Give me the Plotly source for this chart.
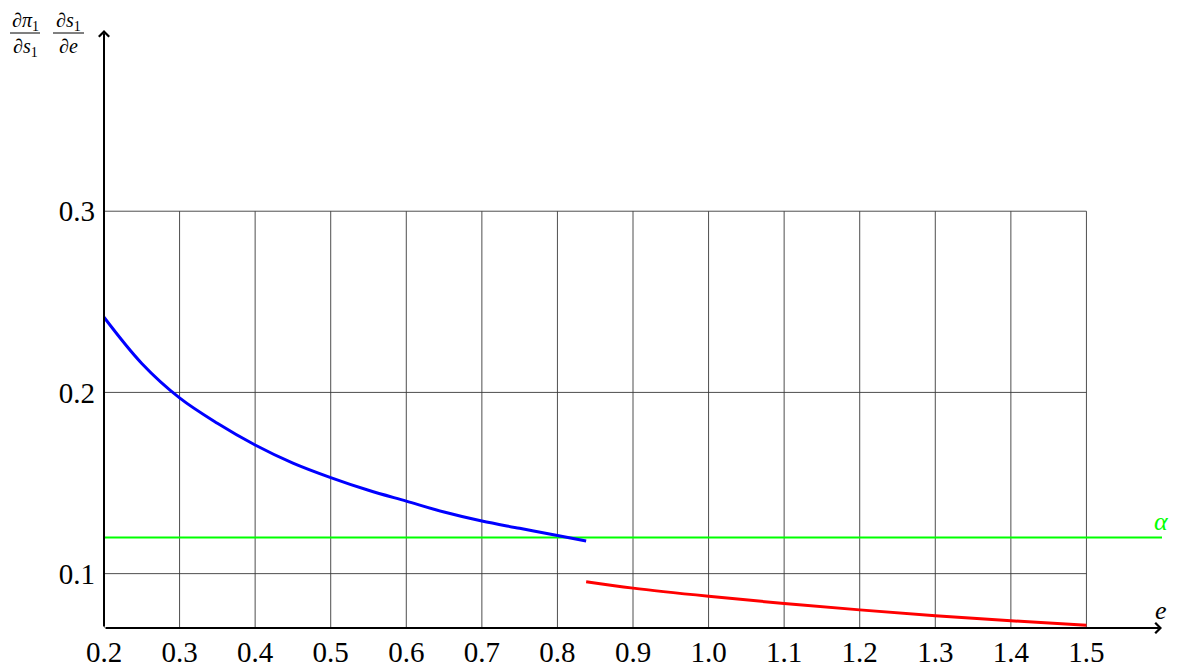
import plotly.graph_objects as go

# data
blue_e = [0.2, 0.25, 0.3, 0.35, 0.4, 0.45, 0.5, 0.55, 0.6, 0.65, 0.7, 0.75, 0.8, 0.838]
blue_v = [0.2415, 0.216, 0.197, 0.183, 0.171, 0.161, 0.153, 0.146, 0.140, 0.134, 0.129, 0.125, 0.121, 0.118]
red_e = [0.838, 0.9, 1.0, 1.1, 1.2, 1.3, 1.4, 1.5]
red_v = [0.0955, 0.092, 0.0875, 0.0835, 0.080, 0.0768, 0.074, 0.0715]
alpha_level = 0.12

x_ticks = [0.2, 0.3, 0.4, 0.5, 0.6, 0.7, 0.8, 0.9, 1.0, 1.1, 1.2, 1.3, 1.4, 1.5]
x_ticktext = ["0.2", "0.3", "0.4", "0.5", "0.6", "0.7", "0.8", "0.9", "1.0", "1.1", "1.2", "1.3", "1.4", "1.5"]
y_ticks = [0.1, 0.2, 0.3]
y_ticktext = ["0.1", "0.2", "0.3"]

x_min, x_max = 0.2, 1.6
y_min, y_max = 0.07, 0.4

FONT = "Liberation Serif"

# page has an 8px body margin; size figure so plot area matches the reference
OFF = 8
W, H = 1172, 659
L, R, T, B = 96, 18, 22, 39
pw, ph = W - L - R, H - T - B


def px_x(px):
    return (px - OFF - L) / pw


def px_y(py):
    return (H - (py - OFF) - B) / ph


fig = go.Figure()

# grid (limited to tick extent)
grid_top = max(y_ticks)
grid_right = max(x_ticks)
for xv in x_ticks:
    fig.add_shape(type="line", x0=xv, x1=xv, y0=y_min, y1=grid_top, xref="x", yref="y",
                  line=dict(color="#3a3a3a", width=0.9), layer="below")
for yv in y_ticks:
    fig.add_shape(type="line", x0=x_min, x1=grid_right, y0=yv, y1=yv, xref="x", yref="y",
                  line=dict(color="#3a3a3a", width=0.9), layer="below")

fig.add_trace(go.Scatter(x=[x_min, x_max], y=[alpha_level, alpha_level], mode="lines",
                         line=dict(color="#00ff00", width=2), hoverinfo="skip"))
fig.add_trace(go.Scatter(x=blue_e, y=blue_v, mode="lines",
                         line=dict(color="#0000ff", width=3, shape="spline"), hoverinfo="skip"))
fig.add_trace(go.Scatter(x=red_e, y=red_v, mode="lines",
                         line=dict(color="#ff0000", width=3, shape="spline"), hoverinfo="skip"))

# axes with arrows
fig.add_annotation(x=x_max, y=y_min, ax=x_min, ay=y_min, xref="x", yref="y", axref="x", ayref="y",
                   showarrow=True, arrowhead=4, arrowsize=1, arrowwidth=2, arrowcolor="black", text="")
fig.add_annotation(x=x_min, y=y_max, ax=x_min, ay=y_min, xref="x", yref="y", axref="x", ayref="y",
                   showarrow=True, arrowhead=4, arrowsize=1, arrowwidth=2, arrowcolor="black", text="")

# axis label e and alpha label
fig.add_annotation(x=px_x(1161), y=px_y(610), xref="paper", yref="paper", text="<i>e</i>",
                   showarrow=False, xanchor="center", yanchor="middle",
                   font=dict(family=FONT, size=26, color="black"))
fig.add_annotation(x=px_x(1161), y=px_y(521), xref="paper", yref="paper", text="<i>α</i>",
                   showarrow=False, xanchor="center", yanchor="middle",
                   font=dict(family=FONT, size=26, color="#00ff00"))

# y-axis title as two stacked fractions: (center x, numerator, denominator, bar left, bar right)
title_parts = [(25, "∂<i>π</i><sub>1</sub>", "∂<i>s</i><sub>1</sub>", 10, 40),
               (68, "∂<i>s</i><sub>1</sub>", "∂<i>e</i>", 53, 84)]
for xc, num, den, xl, xr in title_parts:
    fig.add_annotation(x=px_x(xc), y=px_y(OFF), xref="paper", yref="paper", text=num,
                       showarrow=False, xanchor="center", yanchor="top", borderpad=0,
                       font=dict(family=FONT, size=20, color="black"))
    fig.add_annotation(x=px_x(xc), y=px_y(34), xref="paper", yref="paper", text=den,
                       showarrow=False, xanchor="center", yanchor="top", borderpad=0,
                       font=dict(family=FONT, size=20, color="black"))
    fig.add_shape(type="line", xref="paper", yref="paper",
                  x0=px_x(xl), x1=px_x(xr), y0=px_y(33), y1=px_y(33),
                  line=dict(color="black", width=1))

fig.update_layout(
    width=W, height=H,
    margin=dict(l=L, r=R, t=T, b=B, autoexpand=False),
    paper_bgcolor="white", plot_bgcolor="white",
    showlegend=False,
    xaxis=dict(range=[x_min, x_max], tickvals=x_ticks, ticktext=x_ticktext, showgrid=False,
               zeroline=False, showline=False, ticks="", ticklabelstandoff=4, automargin=False,
               tickfont=dict(family=FONT, size=29, color="black")),
    yaxis=dict(range=[y_min, y_max], tickvals=y_ticks, ticktext=y_ticktext, showgrid=False,
               zeroline=False, showline=False, ticks="", ticklabelstandoff=8, automargin=False,
               tickfont=dict(family=FONT, size=29, color="black")),
)

fig.write_html("out.html")
